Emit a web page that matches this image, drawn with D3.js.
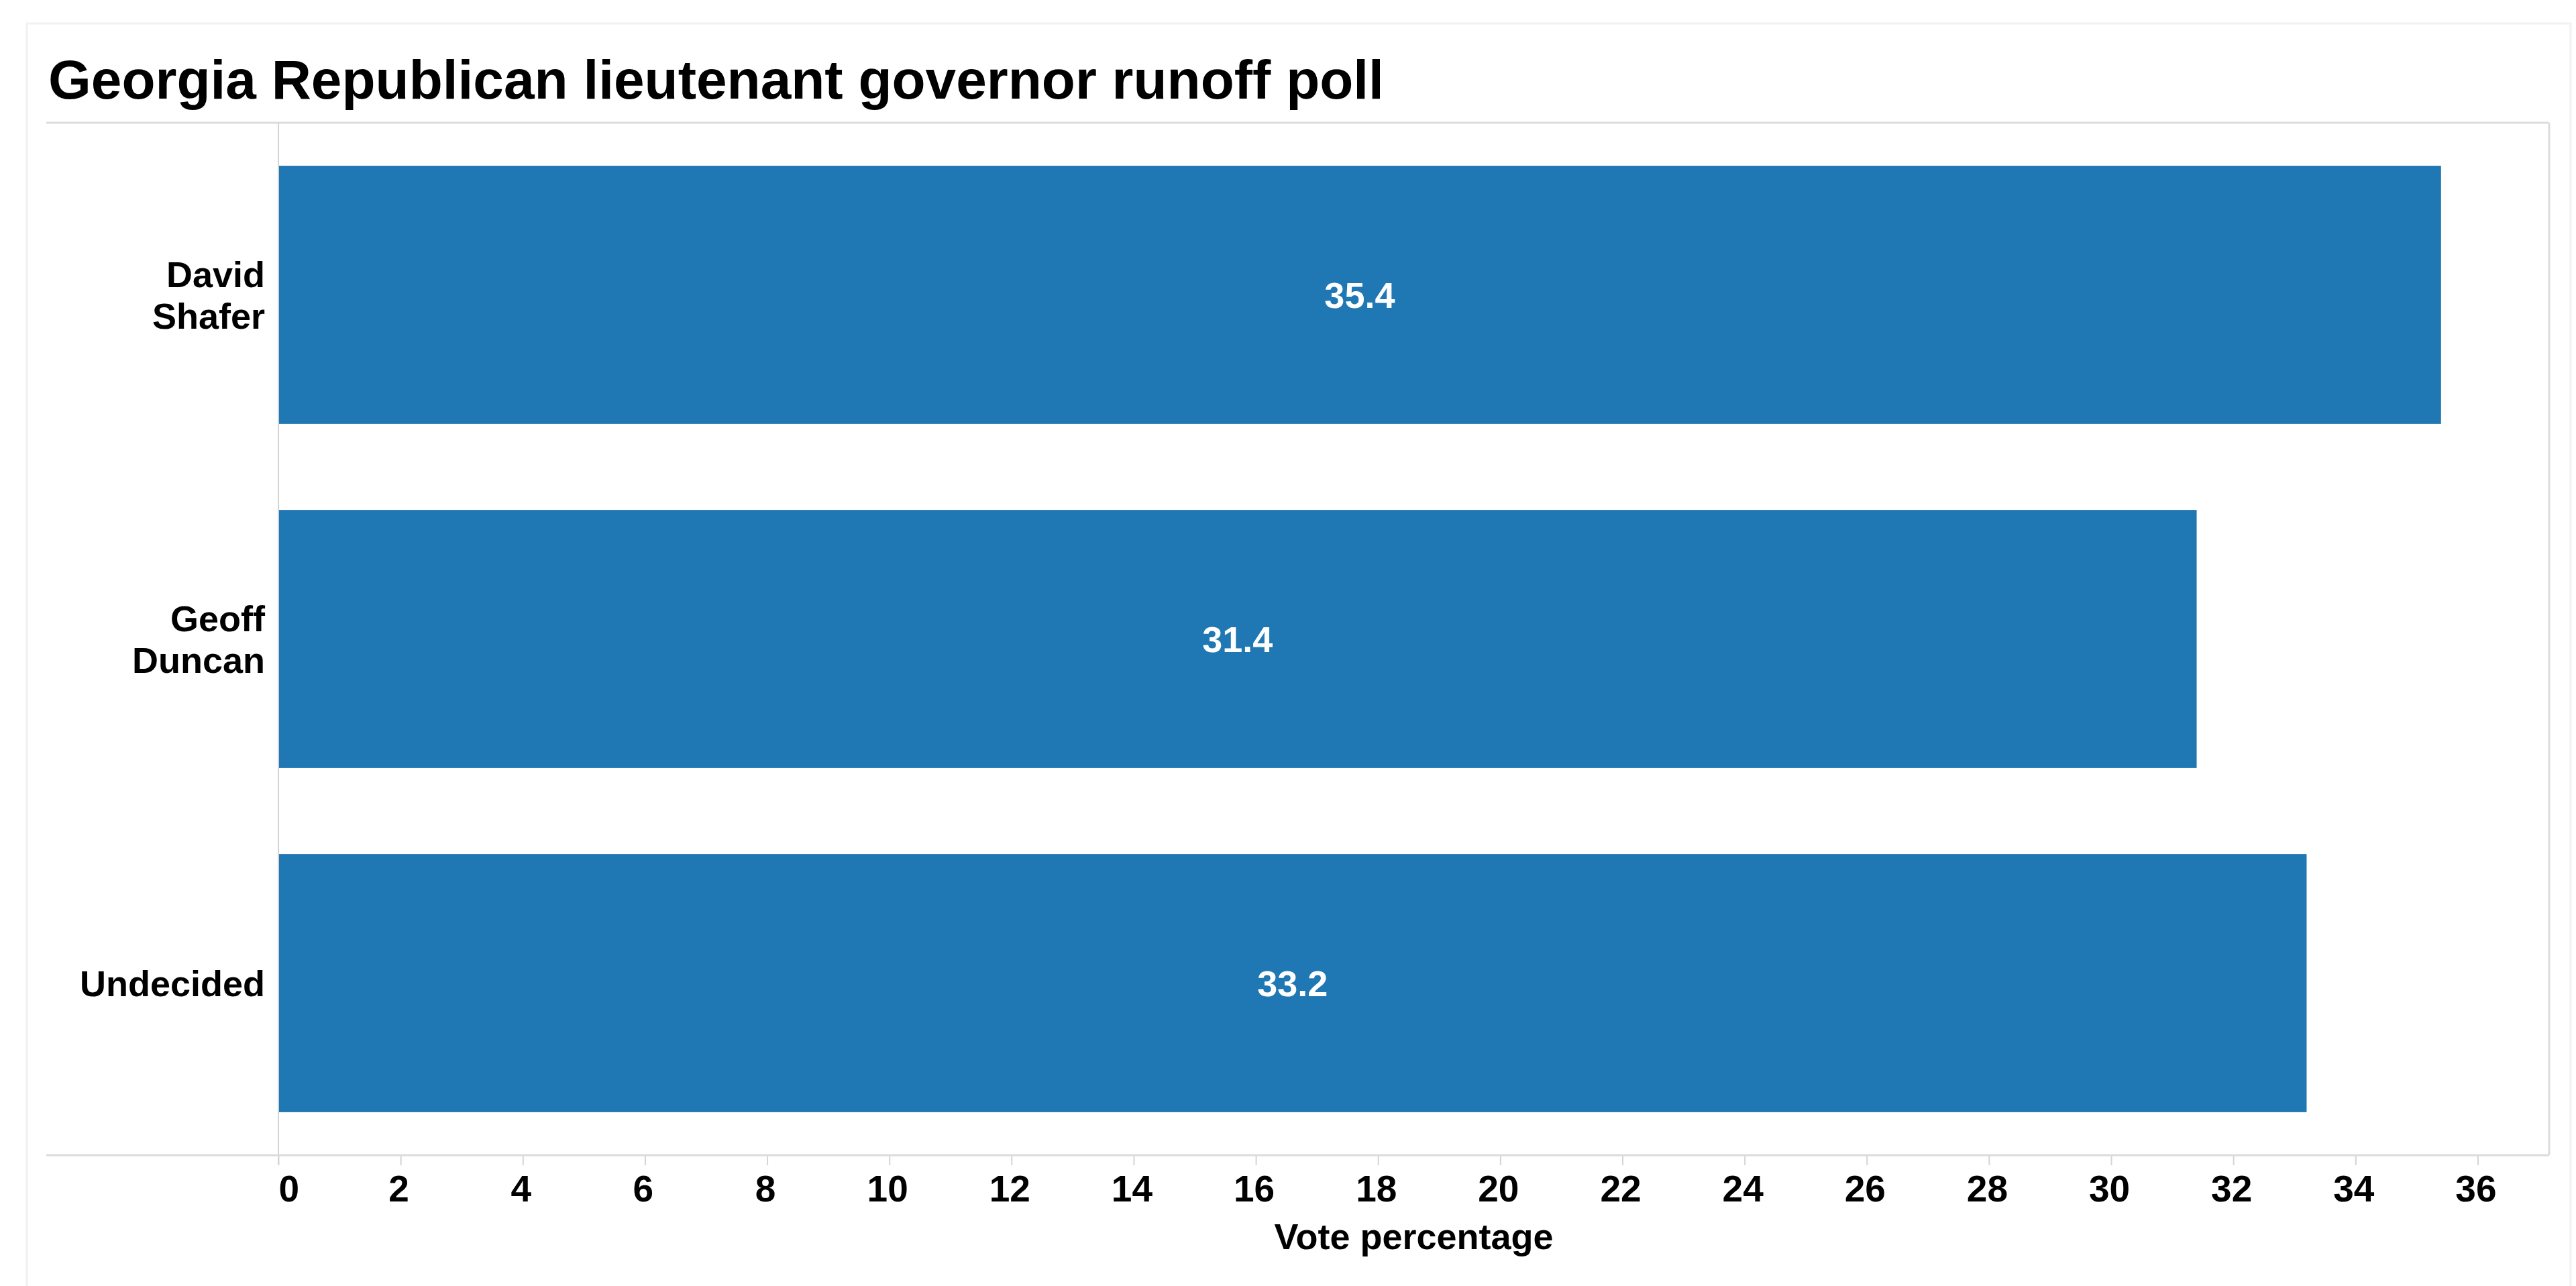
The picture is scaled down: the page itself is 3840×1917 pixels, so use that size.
<!DOCTYPE html>
<html>
<head>
<meta charset="utf-8">
<script src="https://cdn.jsdelivr.net/npm/d3@7"></script>
<style>
  html, body { margin: 0; padding: 0; background: #ffffff; }
  svg { display: block; }
  text { font-family: "Liberation Sans", Arial, Helvetica, sans-serif; font-weight: bold; }
</style>
</head>
<body>
<script>
const categories = ["David Shafer", "Geoff Duncan", "Undecided"];
const values = [35.4, 31.4, 33.2];
const tickValues = [0, 2, 4, 6, 8, 10, 12, 14, 16, 18, 20, 22, 24, 26, 28, 30, 32, 34, 36];
const titleText = "Georgia Republican lieutenant governor runoff poll";
const xTitle = "Vote percentage";
const xMax = 37.17;

const W = 3840, H = 1917;
const plot = { left: 415, right: 3800, top: 183, bottom: 1722, frameLeft: 69 };

const svg = d3.select("body").append("svg").attr("width", W).attr("height", H);

// outer faint panel
svg.append("rect")
  .attr("x", 40).attr("y", 35)
  .attr("width", 3832 - 40).attr("height", H)
  .attr("fill", "#ffffff").attr("stroke", "#f1f1f1").attr("stroke-width", 3);

// title
svg.append("text")
  .attr("x", 72).attr("y", 147)
  .attr("font-size", 82)
  .attr("fill", "#000")
  .text(titleText);

const x = d3.scaleLinear().domain([0, xMax]).range([plot.left, plot.right]);
const y = d3.scaleBand().domain(categories).range([plot.top, plot.bottom])
  .paddingInner(0.25).paddingOuter(0.125);

// frame lines
const frameColor = "#dcdcdc";
svg.append("line").attr("x1", plot.frameLeft).attr("x2", plot.right)
  .attr("y1", plot.top).attr("y2", plot.top)
  .attr("stroke", frameColor).attr("stroke-width", 3);
svg.append("line").attr("x1", plot.right).attr("x2", plot.right)
  .attr("y1", plot.top).attr("y2", plot.bottom)
  .attr("stroke", frameColor).attr("stroke-width", 3);

// bars
svg.append("g").selectAll("rect").data(values).join("rect")
  .attr("x", x(0))
  .attr("y", (d, i) => y(categories[i]))
  .attr("width", d => x(d) - x(0))
  .attr("height", y.bandwidth())
  .attr("fill", "#1f77b4");

// value labels
svg.append("g").selectAll("text").data(values).join("text")
  .attr("x", d => (x(0) + x(d)) / 2)
  .attr("y", (d, i) => y(categories[i]) + y.bandwidth() / 2)
  .attr("dy", "0.36em")
  .attr("text-anchor", "middle")
  .attr("font-size", 54)
  .attr("fill", "#ffffff")
  .text(d => d.toFixed(1));

// y axis line
svg.append("line").attr("x1", plot.left).attr("x2", plot.left)
  .attr("y1", plot.top).attr("y2", plot.bottom + 15)
  .attr("stroke", "#d4d4d4").attr("stroke-width", 2);

// x axis
const xAxis = d3.axisBottom(x).tickValues(tickValues).tickSize(15).tickPadding(15)
  .tickFormat(d3.format("d"));
const gx = svg.append("g").attr("transform", `translate(0,${plot.bottom})`).call(xAxis);
gx.select(".domain").remove();
gx.selectAll(".tick line").attr("stroke", "#d4d4d4").attr("stroke-width", 2);
gx.selectAll(".tick text")
  .attr("font-size", 55)
  .attr("font-family", "'Liberation Sans', Arial, sans-serif")
  .attr("font-weight", "bold")
  .attr("fill", "#000")
  .attr("text-anchor", d => d === 0 ? "start" : "middle")
  .attr("dx", d => d === 0 ? 0 : -3);
svg.append("line").attr("x1", plot.frameLeft).attr("x2", plot.right)
  .attr("y1", plot.bottom).attr("y2", plot.bottom)
  .attr("stroke", frameColor).attr("stroke-width", 3);

// axis title
svg.append("text")
  .attr("x", (plot.left + plot.right) / 2).attr("y", 1862)
  .attr("text-anchor", "middle")
  .attr("font-size", 54)
  .attr("fill", "#000")
  .text(xTitle);

// category labels
const lineH = 62;
svg.append("g").selectAll("text").data(categories).join("text")
  .attr("text-anchor", "end")
  .attr("font-size", 54)
  .attr("fill", "#000")
  .each(function(d) {
    const words = d.split(" ");
    const cy = y(d) + y.bandwidth() / 2;
    const t = d3.select(this);
    const n = words.length;
    words.forEach((w, i) => {
      t.append("tspan")
        .attr("x", plot.left - 20)
        .attr("y", cy + (i - (n - 1) / 2) * lineH)
        .attr("dy", "0.36em")
        .text(w);
    });
  });
</script>
</body>
</html>
